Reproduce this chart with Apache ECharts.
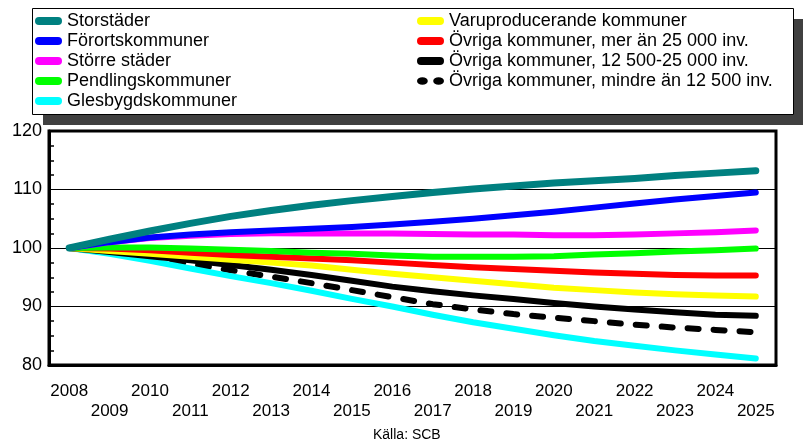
<!DOCTYPE html>
<html>
<head>
<meta charset="utf-8">
<script src="https://cdn.jsdelivr.net/npm/echarts@6/dist/echarts.min.js"></script>
<style>
  html, body { margin: 0; padding: 0; background: #fff; }
  #chart { width: 803px; height: 447px; }
</style>
</head>
<body>
<div id="chart"></div>
<script>
// år
const years = ['2008', '2009', '2010', '2011', '2012', '2013', '2014', '2015', '2016',
  '2017', '2018', '2019', '2020', '2021', '2022', '2023', '2024', '2025'];
const yTicks = [80, 90, 100, 110, 120];

// index, 2008 = 100
const storstader = [100, 101.5, 102.9, 104.2, 105.4, 106.4, 107.3, 108.1, 108.8, 109.5, 110.1, 110.6, 111.1, 111.5, 111.9, 112.4, 112.8, 113.2];
const forort = [100, 101.0, 101.8, 102.3, 102.7, 103.0, 103.3, 103.6, 104.0, 104.5, 105.0, 105.6, 106.2, 106.9, 107.6, 108.3, 108.9, 109.5];
const storreStader = [100, 101.0, 101.7, 102.1, 102.4, 102.5, 102.5, 102.5, 102.5, 102.4, 102.3, 102.3, 102.2, 102.2, 102.3, 102.5, 102.7, 103.0];
const pendling = [100, 100.1, 100.1, 99.9, 99.7, 99.5, 99.2, 99.0, 98.7, 98.5, 98.5, 98.5, 98.6, 98.9, 99.1, 99.4, 99.6, 99.9];
const glesbygd = [100, 99.0, 97.8, 96.5, 95.2, 94.0, 92.7, 91.3, 90.0, 88.6, 87.3, 86.2, 85.1, 84.1, 83.3, 82.5, 81.8, 81.1];
const varuprod = [100, 99.5, 99.0, 98.5, 98.0, 97.5, 97.0, 96.3, 95.6, 95.0, 94.4, 93.8, 93.2, 92.8, 92.4, 92.1, 91.9, 91.7];
const ovrigaStor = [100, 99.9, 99.6, 99.2, 98.8, 98.5, 98.2, 97.9, 97.5, 97.1, 96.7, 96.4, 96.1, 95.8, 95.6, 95.4, 95.3, 95.3];
const ovrigaMellan = [100, 99.3, 98.6, 97.9, 97.1, 96.3, 95.4, 94.4, 93.4, 92.6, 91.9, 91.3, 90.6, 90.0, 89.5, 89.0, 88.6, 88.4];
const ovrigaSma = [100, 99.2, 98.3, 97.3, 96.2, 95.1, 94.0, 92.8, 91.6, 90.4, 89.5, 88.7, 88.1, 87.5, 86.9, 86.4, 86.0, 85.6];

const leftNames = ['Storstäder', 'Förortskommuner', 'Större städer', 'Pendlingskommuner', 'Glesbygdskommuner'];
const rightNames = ['Varuproducerande kommuner', 'Övriga kommuner, mer än 25 000 inv.',
  'Övriga kommuner, 12 500-25 000 inv.', 'Övriga kommuner, mindre än 12 500 inv.'];

const font = '"Liberation Sans", Arial, sans-serif';
const pill = 'path://M4,0 H23 A4,4 0 0 1 23,8 H4 A4,4 0 0 1 4,0 Z';
const dots = 'path://M0,3.5 A5,3.5 0 1 1 10,3.5 A5,3.5 0 1 1 0,3.5 Z M15,3.5 A5,3.5 0 1 1 25,3.5 A5,3.5 0 1 1 15,3.5 Z';

let myChart = echarts.init(document.getElementById('chart'));

function line(name, data, color, width, z, dash) {
  return {
    name: name,
    type: 'line',
    data: data,
    color: color,
    symbol: 'none',
    z: z,
    animation: false,
    lineStyle: {
      color: color,
      width: width,
      cap: 'round',
      join: 'round',
      type: dash || 'solid'
    }
  };
}

function legendBox(names, left) {
  return {
    orient: 'vertical',
    left: left,
    top: 11,
    padding: 0,
    itemGap: 0,
    itemWidth: 27,
    itemHeight: 8,
    itemStyle: { borderWidth: 0 },
    lineStyle: { width: 0 },
    textStyle: { fontSize: 18, lineHeight: 20, color: '#000', fontFamily: font },
    selectedMode: false,
    data: names.map(n => ({
      name: n,
      icon: n === 'Övriga kommuner, mindre än 12 500 inv.' ? dots : pill
    }))
  };
}

let option = {
  animation: false,
  backgroundColor: '#fff',
  textStyle: { fontFamily: font },
  title: {
    text: 'Källa: SCB',
    left: 373,
    top: 428,
    padding: 0,
    textStyle: { fontSize: 14, fontWeight: 'normal', color: '#000', fontFamily: font }
  },
  graphic: [
    // skugga + ram runt legenden
    { type: 'rect', left: 43, top: 19, shape: { width: 761, height: 106 }, style: { fill: '#404040' }, z: -10 },
    { type: 'rect', left: 32, top: 8, shape: { width: 761, height: 106 }, style: { fill: '#fff', stroke: '#000', lineWidth: 1 }, z: -9 }
  ],
  legend: [legendBox(leftNames, 35), legendBox(rightNames, 417)],
  grid: {
    left: 49,
    right: 27,
    top: 131,
    bottom: 82,
    show: true,
    borderColor: '#000',
    borderWidth: 3
  },
  xAxis: {
    type: 'category',
    data: years,
    boundaryGap: true,
    axisLine: { lineStyle: { color: '#000', width: 3 } },
    axisTick: { inside: true, alignWithLabel: true, length: 9, lineStyle: { color: '#000', width: 1.5 } },
    axisLabel: {
      interval: 0,
      margin: 16,
      fontSize: 17,
      lineHeight: 20,
      color: '#000',
      fontFamily: font,
      formatter: (v, i) => (i % 2 === 1 ? '\n' + v : v)
    }
  },
  yAxis: {
    type: 'value',
    min: yTicks[0],
    max: yTicks[yTicks.length - 1],
    interval: 10,
    axisLine: { show: true, lineStyle: { color: '#000', width: 3 } },
    axisTick: { inside: true, length: 5, lineStyle: { color: '#000', width: 1.5 } },
    minorTick: { show: true, splitNumber: 4, length: 5, lineStyle: { color: '#000', width: 1.5 } },
    splitLine: { show: true, lineStyle: { color: '#000', width: 1.2 } },
    axisLabel: { margin: 7, fontSize: 18, color: '#000', fontFamily: font }
  },
  series: [
    line(rightNames[3], ovrigaSma, '#000000', 6, 3, [11, 15]),
    line(leftNames[4], glesbygd, '#00FFFF', 6, 3),
    line(rightNames[2], ovrigaMellan, '#000000', 6, 4),
    line(rightNames[0], varuprod, '#FFFF00', 6, 5),
    line(rightNames[1], ovrigaStor, '#FF0000', 6, 6),
    line(leftNames[3], pendling, '#00FF00', 6, 7),
    line(leftNames[2], storreStader, '#FF00FF', 6, 8),
    line(leftNames[1], forort, '#0000FF', 6, 9),
    line(leftNames[0], storstader, '#008080', 7, 10)
  ]
};

myChart.setOption(option);
</script>
</body>
</html>
